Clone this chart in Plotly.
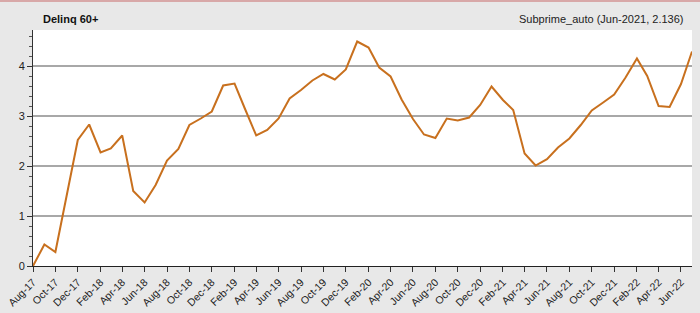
import plotly.graph_objects as go
import pandas as pd

months = pd.date_range("2017-08-01", "2022-07-01", freq="MS")
values = [0.00, 0.43, 0.28, 1.40, 2.52, 2.83, 2.27, 2.35, 2.61, 1.50,
          1.27, 1.62, 2.11, 2.34, 2.82, 2.95, 3.09, 3.61, 3.65, 3.15,
          2.61, 2.72, 2.95, 3.35, 3.52, 3.71, 3.84, 3.73, 3.93, 4.49,
          4.37, 3.97, 3.79, 3.33, 2.94, 2.63, 2.56, 2.95, 2.91, 2.97,
          3.22, 3.59, 3.32, 3.12, 2.25, 2.01, 2.136, 2.37, 2.55, 2.82,
          3.11, 3.27, 3.43, 3.77, 4.15, 3.80, 3.20, 3.18, 3.64, 4.29]
series_name = "Subprime_auto"
chart_title = "Delinq 60+"
hover_label = "Subprime_auto (Jun-2021, 2.136)"

fig = go.Figure()
fig.add_trace(go.Scatter(x=months, y=values, mode="lines", name=series_name,
                         line=dict(color="#c8701e", width=2)))

fig.update_layout(
    width=700, height=313,
    margin=dict(l=33, r=8, t=30, b=47),
    paper_bgcolor="#e8e8e8", plot_bgcolor="#ffffff",
    showlegend=False,
    font=dict(family="Liberation Sans, Arial, sans-serif", size=11, color="#222222"),
    xaxis=dict(
        range=[months[0], months[-1]], automargin=False,
        tickformat="%b-%y", dtick="M2", tick0="2017-08-01",
        tickangle=-45, ticks="outside", ticklen=5, tickcolor="#333333",
        showline=True, linecolor="#222222", linewidth=1,
        showgrid=False, zeroline=False,
        tickfont=dict(size=10.5),
    ),
    yaxis=dict(
        range=[0, 4.72], dtick=1, tick0=0, automargin=False,
        ticks="outside", ticklen=5, tickcolor="#333333",
        showline=True, linecolor="#333333", linewidth=1,
        showgrid=True, gridcolor="#a8a8a8", gridwidth=1.5,
        zeroline=False,
        minor=dict(dtick=0.2, ticks="outside", ticklen=3, tickcolor="#555555", showgrid=False),
        tickfont=dict(size=11),
    ),
    annotations=[
        dict(text="<b>" + chart_title + "</b>", x=(41 - 33) / 659, y=1 + 11 / 236,
             xref="paper", yref="paper", xanchor="left", yanchor="middle",
             showarrow=False, font=dict(size=11, color="#111111")),
        dict(text=hover_label, x=(686 - 33) / 659, y=1 + 11 / 236,
             xref="paper", yref="paper", xanchor="right", yanchor="middle",
             showarrow=False, font=dict(size=11, color="#222222")),
    ],
    shapes=[
        dict(type="rect", xref="paper", yref="paper",
             x0=-33 / 659, x1=1 + 8 / 659, y0=1 + 28 / 236, y1=1 + 31 / 236,
             fillcolor="#d8a8a8", line=dict(width=0), layer="above"),
    ],
)

fig.write_html("out.html")
